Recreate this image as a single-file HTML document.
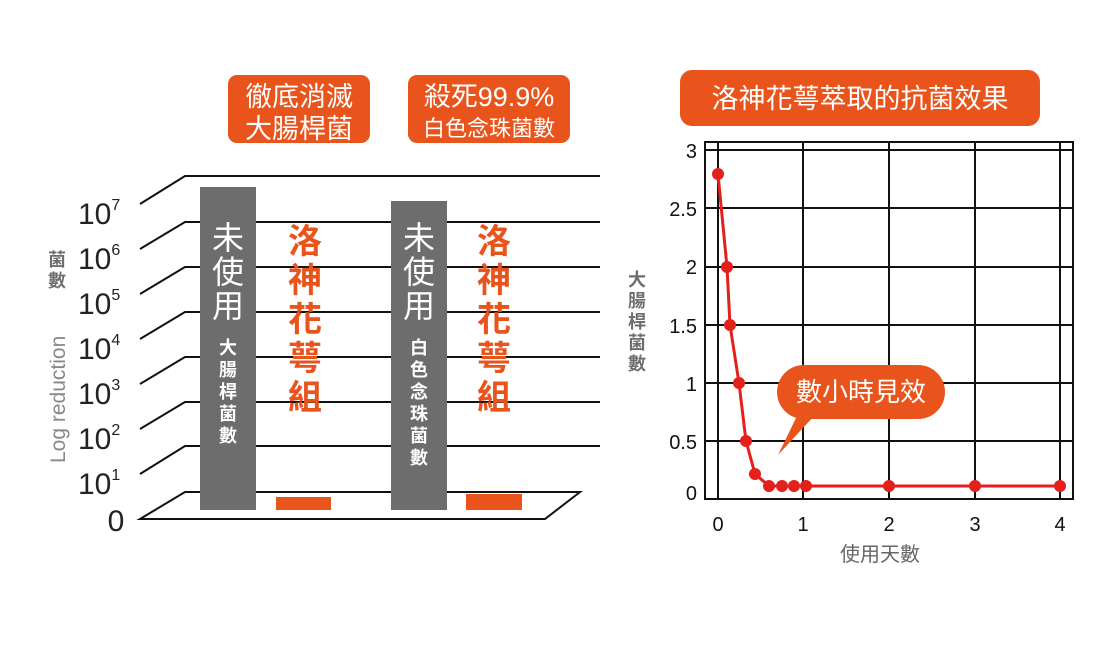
<!DOCTYPE html>
<html><head><meta charset="utf-8"><style>
html,body{margin:0;padding:0;background:#fff;}
svg text{font-family:"Liberation Sans","Noto Sans CJK TC",sans-serif;}
</style></head><body>
<svg width="1110" height="647" viewBox="0 0 1110 647" xmlns="http://www.w3.org/2000/svg">
<rect x="228" y="75" width="142" height="68" rx="9" fill="#e8541c"/>
<text x="299" y="106" font-size="27" fill="#fff" text-anchor="middle">徹底消滅</text>
<text x="299" y="138" font-size="27" fill="#fff" text-anchor="middle">大腸桿菌</text>
<rect x="408" y="75" width="162" height="68" rx="9" fill="#e8541c"/>
<text x="489" y="106" font-size="27" fill="#fff" text-anchor="middle">殺死99.9%</text>
<text x="489" y="136" font-size="22" fill="#fff" text-anchor="middle">白色念珠菌數</text>

<g stroke="#111" stroke-width="2" fill="none">
<path d="M140 204 L185 176 H600"/>
<path d="M140 249 L185 222 H600"/>
<path d="M140 294 L185 267 H600"/>
<path d="M140 339 L185 312 H600"/>
<path d="M140 384 L185 357 H600"/>
<path d="M140 429 L185 402 H600"/>
<path d="M140 474 L185 446 H600"/>
<path d="M140 519 L185 492 H580 L545 519 Z"/>
</g>
<rect x="200" y="187" width="56" height="323" fill="#6d6d6d"/>
<rect x="276" y="497" width="55" height="13" fill="#e8541c"/>
<rect x="391" y="201" width="56" height="309" fill="#6d6d6d"/>
<rect x="466" y="494" width="56" height="16" fill="#e8541c"/>
<g font-size="32" fill="#fff" text-anchor="middle">
<text x="228" y="249">未</text><text x="228" y="283">使</text><text x="228" y="317">用</text>
<text x="419" y="249">未</text><text x="419" y="283">使</text><text x="419" y="317">用</text>
</g>
<g font-size="18" fill="#fff" text-anchor="middle" font-weight="bold">
<text x="228" y="354">大</text><text x="228" y="376">腸</text><text x="228" y="398">桿</text><text x="228" y="420">菌</text><text x="228" y="442">數</text>
<text x="419" y="354">白</text><text x="419" y="376">色</text><text x="419" y="398">念</text><text x="419" y="420">珠</text><text x="419" y="442">菌</text><text x="419" y="464">數</text>
</g>
<g font-size="34" fill="#e8541c" text-anchor="middle" font-weight="bold">
<text x="305" y="253">洛</text><text x="305" y="292">神</text><text x="305" y="331">花</text><text x="305" y="370">萼</text><text x="305" y="409">組</text>
<text x="494" y="253">洛</text><text x="494" y="292">神</text><text x="494" y="331">花</text><text x="494" y="370">萼</text><text x="494" y="409">組</text>
</g>
<g font-size="30" fill="#222">
<text x="78" y="224">10<tspan font-size="16" dy="-14">7</tspan></text>
<text x="78" y="269">10<tspan font-size="16" dy="-14">6</tspan></text>
<text x="78" y="314">10<tspan font-size="16" dy="-14">5</tspan></text>
<text x="78" y="359">10<tspan font-size="16" dy="-14">4</tspan></text>
<text x="78" y="404">10<tspan font-size="16" dy="-14">3</tspan></text>
<text x="78" y="449">10<tspan font-size="16" dy="-14">2</tspan></text>
<text x="78" y="494">10<tspan font-size="16" dy="-14">1</tspan></text>
</g>
<text x="116" y="531" font-size="30" fill="#222" text-anchor="middle">0</text>
<g font-size="18" fill="#6d6d6d" font-weight="bold" text-anchor="middle">
<text x="57" y="266">菌</text><text x="57" y="287">數</text>
</g>
<text transform="translate(65,463) rotate(-90)" font-size="21" fill="#888">Log reduction</text>

<rect x="680" y="70" width="360" height="56" rx="12" fill="#e8541c"/>
<text x="860" y="108" font-size="27" fill="#fff" text-anchor="middle">洛神花萼萃取的抗菌效果</text>
<g stroke="#111" stroke-width="2" fill="none">
<rect x="705" y="142" width="368" height="357"/>
<path d="M705 150H1073 M705 208H1073 M705 267H1073 M705 325H1073 M705 383H1073 M705 441H1073"/>
<path d="M718 142V499 M803 142V499 M889 142V499 M975 142V499 M1060 142V499"/>
</g>
<g font-size="20" fill="#111" text-anchor="end">
<text x="697" y="158">3</text><text x="697" y="216">2.5</text><text x="697" y="274">2</text>
<text x="697" y="333">1.5</text><text x="697" y="391">1</text><text x="697" y="449">0.5</text><text x="697" y="500">0</text>
</g>
<g font-size="20" fill="#111" text-anchor="middle">
<text x="718" y="531">0</text><text x="803" y="531">1</text><text x="889" y="531">2</text><text x="975" y="531">3</text><text x="1060" y="531">4</text>
</g>
<text x="880" y="561" font-size="20" fill="#666" text-anchor="middle">使用天數</text>
<g font-size="18" fill="#6d6d6d" font-weight="bold" text-anchor="middle">
<text x="637" y="286">大</text><text x="637" y="307">腸</text><text x="637" y="328">桿</text><text x="637" y="349">菌</text><text x="637" y="370">數</text>
</g>
<polyline points="718,174 727,267 730,325 739,383 746,441 755,474 769,486 782,486 794,486 806,486 889,486 975,486 1060,486" fill="none" stroke="#e3201b" stroke-width="3"/>
<g fill="#e3201b">
<circle cx="718" cy="174" r="6"/><circle cx="727" cy="267" r="6"/><circle cx="730" cy="325" r="6"/><circle cx="739" cy="383" r="6"/><circle cx="746" cy="441" r="6"/><circle cx="755" cy="474" r="6"/><circle cx="769" cy="486" r="6"/><circle cx="782" cy="486" r="6"/><circle cx="794" cy="486" r="6"/><circle cx="806" cy="486" r="6"/><circle cx="889" cy="486" r="6"/><circle cx="975" cy="486" r="6"/><circle cx="1060" cy="486" r="6"/>
</g>
<path d="M797 416 L778 455 L814 416 Z" fill="#e8541c"/>
<rect x="777" y="365" width="168" height="54" rx="27" fill="#e8541c"/>
<text x="861" y="401" font-size="26" fill="#fff" text-anchor="middle">數小時見效</text>
</svg>
</body></html>
